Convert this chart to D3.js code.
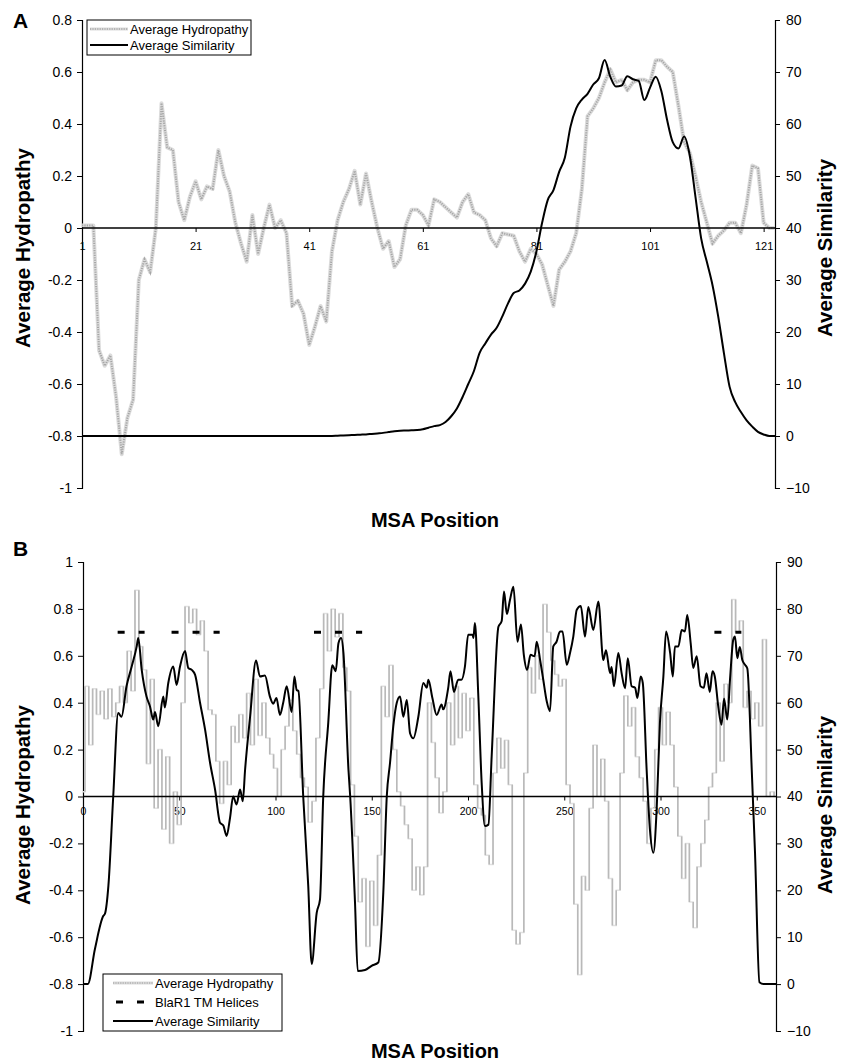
<!DOCTYPE html>
<html>
<head>
<meta charset="utf-8">
<script src="https://cdn.jsdelivr.net/npm/d3@7"></script>
<style>
  html, body { margin: 0; padding: 0; background: #fff; }
  text { font-family: "Liberation Sans", Arial, sans-serif; fill: #000; }
</style>
</head>
<body>
<svg id="chart" width="850" height="1061"></svg>
<script>
// ---------------- DATA ----------------
// Panel A: MSA positions 1..123
const hydroA = [0.01,0.01,0.01,-0.47,-0.53,-0.49,-0.65,-0.87,-0.73,-0.66,
  -0.20,-0.12,-0.17,0.00,0.48,0.31,0.30,0.10,0.03,0.12,
  0.18,0.11,0.16,0.15,0.30,0.20,0.14,0.02,-0.06,-0.13,
  0.05,-0.10,0.00,0.09,0.00,0.03,-0.02,-0.30,-0.28,-0.33,
  -0.45,-0.38,-0.30,-0.36,-0.09,0.03,0.10,0.15,0.22,0.09,
  0.21,0.10,0.00,-0.08,-0.05,-0.15,-0.12,0.01,0.07,0.07,
  0.05,0.01,0.11,0.10,0.08,0.06,0.04,0.10,0.13,0.06,
  0.05,0.03,-0.04,-0.07,-0.02,-0.025,-0.03,-0.09,-0.13,-0.08,
  -0.10,-0.14,-0.22,-0.30,-0.16,-0.13,-0.09,-0.02,0.15,0.43,
  0.46,0.50,0.56,0.61,0.56,0.57,0.53,0.56,0.57,0.57,
  0.56,0.645,0.645,0.62,0.60,0.47,0.33,0.29,0.20,0.10,
  0.02,-0.06,-0.03,-0.01,0.02,0.02,-0.02,0.09,0.24,0.23,
  0.02,0.00,0.00];
const simA = [0,0,0,0,0,0,0,0,0,0, 0,0,0,0,0,0,0,0,0,0,
  0,0,0,0,0,0,0,0,0,0, 0,0,0,0,0,0,0,0,0,0,
  0,0,0,0,0,0.05,0.1,0.15,0.2,0.25,
  0.3,0.4,0.5,0.6,0.75,0.9,1.0,1.05,1.1,1.15,
  1.3,1.6,1.9,2.1,2.7,3.8,5.3,7.5,10,12.5,
  16,17.8,19.5,20.8,23,25.5,27.5,28,29.3,31.6,
  35.5,41,45.4,47.3,50.8,53.5,59.5,63,64.7,65.8,
  67.6,68.8,72.3,69.1,67.2,67.4,69.2,68.6,68.3,64.6,
  67,69.1,66.3,60.8,56.5,55.3,57.6,53.9,46,38,
  33.5,29,23,16,9.5,6.5,4.6,3,1.8,0.8,
  0.3,0,0];
const posA = d3.range(1, hydroA.length + 1);

// Panel B: hydropathy sampled every 2 MSA positions (0..360)
const hydroB = [0.02,0.47,0.22,0.46,0.35,0.45,0.33,0.46,0.34,0.40,
  0.47,0.40,0.62,0.45,0.88,0.64,0.54,0.14,0.50,-0.05,
  0.20,-0.14,0.17,-0.20,0.02,-0.12,0.40,0.81,0.74,0.80,
  0.69,0.75,0.62,0.37,0.35,0.15,-0.03,0.15,0.05,0.30,
  0.23,0.35,0.25,0.44,0.22,0.50,0.26,0.40,0.25,0.18,
  0.12,0.00,0.20,0.30,0.41,0.28,0.18,0.08,0.04,-0.11,
  -0.02,0.25,0.46,0.78,0.62,0.80,0.68,0.78,0.55,0.45,
  0.05,-0.17,-0.45,-0.35,-0.64,-0.36,-0.55,-0.25,0.47,0.34,
  0.56,0.20,0.02,-0.04,-0.12,-0.18,-0.40,-0.30,-0.42,-0.30,
  0.40,0.23,0.08,-0.07,0.02,0.40,0.22,0.47,0.25,0.44,
  0.28,0.42,0.05,-0.05,-0.08,-0.25,-0.29,0.10,0.25,0.12,
  0.24,0.05,-0.57,-0.63,-0.58,0.10,0.55,0.44,0.60,0.50,
  0.82,0.70,0.58,0.52,0.47,0.50,0.05,-0.03,-0.46,-0.76,
  -0.34,-0.40,-0.05,0.22,0.00,0.16,-0.02,-0.35,-0.55,-0.40,
  0.10,0.43,0.30,0.38,0.17,0.08,-0.02,-0.20,-0.05,0.20,
  0.38,0.22,0.36,0.22,0.04,-0.17,-0.35,-0.20,-0.45,-0.56,
  -0.30,-0.20,-0.10,0.04,0.10,0.40,0.15,0.48,0.40,0.84,
  0.70,0.75,0.38,0.45,0.33,0.40,0.30,0.67,0.00,0.02,
  0.00];
const hydroBPos = d3.range(0, 361, 2);

const simBPos = [0,2.5,6.2,10.5,11.4,13.2,15.7,18.3,20,22.6,25.3,27.9,28.7,30.5,33,34.8,36.5,37.4,39.1,41.7,
  42.5,44.3,46.9,48.6,50.4,53,54.7,56.5,58.2,60.8,63.4,66,68.6,71.2,72.9,74.6,76.4,78,79.8,81.6,
  83,84.2,86.8,89.9,91.9,94.5,97.1,98.8,100.5,102.3,104,105.8,108.4,109.8,111,111.9,114.4,117,118.8,121.4,
  123.1,124.8,127.4,129.5,131.3,132.7,134.1,135.3,137.9,138.8,141.3,142.7,146.5,149.9,153.4,156,157.8,159.5,161.2,163,
  164.7,166.4,168.2,169.9,171.6,174.2,176.8,178.6,179.4,181.5,183.7,186.3,187.1,189.7,190.9,192.7,194.9,196.6,198.4,200.1,
  202.4,202.8,203.6,205.3,207.1,208.8,210.6,212.3,215.8,217.5,218.7,220.2,221.8,223.6,225.7,227.5,229,230.7,232.5,234.6,
  235.7,237.5,239.1,240.9,242.6,244.3,246,247.8,249.1,251.3,253,254.7,256.5,258.6,260.8,262.5,265.1,267.7,270.3,271.7,
  273.8,274.6,275.8,278.1,279.8,281.6,283,285,286.8,288,289.7,290.8,292.8,294.5,296.3,298,299.7,301.5,302.9,305,
  306.4,307.5,309.3,311,312.7,313.9,315.7,317,318.8,320.8,322.5,323.9,325.6,327,328.2,330,331.7,333,334.7,336.1,
  337.8,338.7,339.9,341.2,342.5,343.9,345.1,347.4,349.1,351.4,353.5,360];
const simB = [0,0,7.5,14.5,15,21,40,57.8,57,63.5,67.7,72,73.8,67,61.3,59.2,56.4,58,55,61.3,
  59,64.2,67.7,63.8,67.7,71,67.4,67,66,60,54.3,47.2,41.5,34.4,33.8,31.6,35.5,40,38.3,41.5,
  39,45.7,57,69,65.6,65.8,61.3,59.8,61,57.4,60,63.5,58,65.6,62.7,62.5,40,21,4.3,15.2,
  18,40,55.7,68,66.7,72.7,73.8,70.6,45.7,40,17.4,2.8,3.0,3.9,4.6,19.5,40,47.2,55,60,
  61.3,57,60.6,53.5,52.4,57,64.2,63.2,64.9,61,57.4,59.6,58.6,63.1,66.7,62.3,64.9,64.9,67.7,74.5,
  74.5,73.8,77,62,42.9,33.7,34,48.6,76.2,77.4,83.7,78.9,81.9,84.7,73,76.7,70.2,67,70.2,69.9,
  73,69,64.9,60.3,58.2,72,73,75.2,75.2,68.1,70.6,74.1,79.8,80.6,74.1,80.4,75.5,81.6,69.1,71.2,
  66.3,67.6,63.5,70.6,66.3,63.1,69.5,63.5,63.2,61,65.6,64.2,45.7,33,28,37.2,55.7,65.6,75.2,70.6,
  65.6,72,72,75.5,75.2,78.7,72.6,67.4,69.9,63.5,63.2,66.3,62.3,66.7,65.6,59.2,55.3,60.9,56.4,64.9,
  73.4,74.1,69.5,71.9,69.1,68.1,67.3,45.7,28,0.4,0,0];

// BlaR1 TM helices (start, end MSA positions), drawn at hydropathy 0.7
const helixStart = [18, 46, 120, 328];
const helixEnd   = [32, 71, 145, 342];
const helixLevel = 0.7;

// Tick values
const ticksAX = [1, 21, 41, 61, 81, 101, 121];
const ticksAL = [-1, -0.8, -0.6, -0.4, -0.2, 0, 0.2, 0.4, 0.6, 0.8];
const ticksAR = [-10, 0, 10, 20, 30, 40, 50, 60, 70, 80];
const ticksBX = [0, 50, 100, 150, 200, 250, 300, 350];
const ticksBL = [-1, -0.8, -0.6, -0.4, -0.2, 0, 0.2, 0.4, 0.6, 0.8, 1];
const ticksBR = [-10, 0, 10, 20, 30, 40, 50, 60, 70, 80, 90];

// ---------------- DRAW ----------------
const svg = d3.select("#chart");
const fmt = d => String(+d.toFixed(1));

function drawPanel(cfg) {
  const g = svg.append("g");
  const x = d3.scaleLinear().domain(cfg.xDomain).range(cfg.xRange);
  const yL = d3.scaleLinear().domain(cfg.yLDomain).range(cfg.yRange);
  const yR = d3.scaleLinear().domain(cfg.yRDomain).range(cfg.yRange);

  const gl = g.append("g").attr("transform", `translate(${cfg.xRange[0]},0)`)
    .call(d3.axisLeft(yL).tickValues(cfg.ticksL).tickSize(5).tickPadding(5).tickFormat(fmt));
  const gr = g.append("g").attr("transform", `translate(${cfg.xRange[1]},0)`)
    .call(d3.axisRight(yR).tickValues(cfg.ticksR).tickSize(5).tickPadding(6).tickFormat(d3.format("d")));
  [gl, gr].forEach(a => {
    a.select(".domain").attr("stroke", "#000").attr("stroke-width", 1.2);
    a.selectAll(".tick line").attr("stroke", "#000");
    a.selectAll("text").style("font-size", "14px").style("font-family", "Liberation Sans, Arial, sans-serif");
  });

  const gx = g.append("g").attr("transform", `translate(0,${yL(0)})`)
    .call(d3.axisBottom(x).tickValues(cfg.ticksX).tickSize(4).tickPadding(cfg.xPad).tickFormat(d3.format("d")));
  gx.select(".domain").remove();
  gx.selectAll(".tick line").attr("stroke", "#000");
  gx.selectAll("text").style("font-size", cfg.xFont).style("font-family", "Liberation Sans, Arial, sans-serif");

  return { g, x, yL, yR, cfg };
}
function zeroLine(P) {
  P.g.append("line").attr("x1", P.cfg.xRange[0]).attr("x2", P.cfg.xRange[1])
    .attr("y1", P.yL(0)).attr("y2", P.yL(0)).attr("stroke", "#000").attr("stroke-width", 1.3);
}

// ---- Panel A ----
const A = drawPanel({
  xDomain: [1, 123], xRange: [82, 775],
  yLDomain: [-1, 0.8], yRDomain: [-10, 80], yRange: [488, 20],
  ticksL: ticksAL, ticksR: ticksAR, ticksX: ticksAX, xPad: 10, xFont: "11px"
});
const lineHA = d3.line().x((d, i) => A.x(posA[i])).y(d => A.yL(d));
A.g.append("path").datum(hydroA).attr("d", lineHA).attr("fill", "none")
  .attr("stroke", "#dcdcdc").attr("stroke-width", 4).attr("stroke-linejoin", "round");
A.g.append("path").datum(hydroA).attr("d", lineHA).attr("fill", "none")
  .attr("stroke", "#a6a6a6").attr("stroke-width", 2).attr("stroke-dasharray", "1.2,1.2");
zeroLine(A);
const lineSA = d3.line().curve(d3.curveMonotoneX).x((d, i) => A.x(posA[i])).y(d => A.yR(d));
A.g.append("path").datum(simA).attr("d", lineSA).attr("fill", "none")
  .attr("stroke", "#000").attr("stroke-width", 2);

// ---- Panel B ----
const B = drawPanel({
  xDomain: [0, 360], xRange: [83, 776],
  yLDomain: [-1, 1], yRDomain: [-10, 90], yRange: [1031, 562],
  ticksL: ticksBL, ticksR: ticksBR, ticksX: ticksBX, xPad: 7, xFont: "10.5px"
});
// faint connecting steps (dotted-line look) + visible vertical strokes
const lineHB = d3.line().curve(d3.curveStep).x((d, i) => B.x(hydroBPos[i])).y(d => B.yL(d));
B.g.append("path").datum(hydroB).attr("d", lineHB).attr("fill", "none")
  .attr("stroke", "#e2e2e2").attr("stroke-width", 1.5);
const segs = d3.pairs(hydroB.map((v, i) => ({ p: hydroBPos[i], v })));
B.g.append("g").selectAll("line").data(segs).join("line")
  .attr("x1", d => B.x((d[0].p + d[1].p) / 2)).attr("x2", d => B.x((d[0].p + d[1].p) / 2))
  .attr("y1", d => B.yL(d[0].v)).attr("y2", d => B.yL(d[1].v))
  .attr("stroke", "#b9b9b9").attr("stroke-width", 1.6);
zeroLine(B);
const lineSB = d3.line().curve(d3.curveMonotoneX).x((d, i) => B.x(simBPos[i])).y(d => B.yR(d));
B.g.append("path").datum(simB).attr("d", lineSB).attr("fill", "none")
  .attr("stroke", "#000").attr("stroke-width", 2);
B.g.selectAll(".helix").data(helixStart).join("line").attr("class", "helix")
  .attr("x1", d => B.x(d)).attr("x2", (d, i) => B.x(helixEnd[i]))
  .attr("y1", B.yL(helixLevel)).attr("y2", B.yL(helixLevel))
  .attr("stroke", "#000").attr("stroke-width", 3).attr("stroke-dasharray", "7,14");

// ---- Titles ----
function boldText(x, y, txt, size, rot, anchor) {
  const t = svg.append("text").attr("font-weight", "bold").style("font-size", size + "px")
    .attr("text-anchor", anchor || "middle").text(txt);
  if (rot) t.attr("transform", `translate(${x},${y}) rotate(${rot})`);
  else t.attr("x", x).attr("y", y);
  return t;
}
boldText(13, 28, "A", 21, 0, "start");
boldText(13, 556, "B", 21, 0, "start");
boldText(30, 248, "Average Hydropathy", 20.5, -90);
boldText(832, 248, "Average Similarity", 20.5, -90);
boldText(435, 527, "MSA Position", 20);
boldText(30, 805, "Average Hydropathy", 20.5, -90);
boldText(832, 805, "Average Similarity", 20.5, -90);
boldText(435, 1058, "MSA Position", 20);

// ---- Legends ----
const legA = svg.append("g");
legA.append("rect").attr("x", 87).attr("y", 20).attr("width", 164).attr("height", 35)
  .attr("fill", "#fff").attr("stroke", "#000").attr("stroke-width", 1);
legA.append("line").attr("x1", 90).attr("x2", 128).attr("y1", 29).attr("y2", 29)
  .attr("stroke", "#dcdcdc").attr("stroke-width", 3);
legA.append("line").attr("x1", 90).attr("x2", 128).attr("y1", 29).attr("y2", 29)
  .attr("stroke", "#a6a6a6").attr("stroke-width", 1.6).attr("stroke-dasharray", "1.2,1.2");
legA.append("line").attr("x1", 90).attr("x2", 128).attr("y1", 45).attr("y2", 45)
  .attr("stroke", "#000").attr("stroke-width", 2);
legA.append("text").attr("x", 130).attr("y", 33.5).style("font-size", "13px").text("Average Hydropathy");
legA.append("text").attr("x", 130).attr("y", 49.5).style("font-size", "13px").text("Average Similarity");

const legB = svg.append("g");
legB.append("rect").attr("x", 103).attr("y", 974).attr("width", 179).attr("height", 57)
  .attr("fill", "#fff").attr("stroke", "#000").attr("stroke-width", 1);
legB.append("line").attr("x1", 113).attr("x2", 153).attr("y1", 983).attr("y2", 983)
  .attr("stroke", "#dcdcdc").attr("stroke-width", 3);
legB.append("line").attr("x1", 113).attr("x2", 153).attr("y1", 983).attr("y2", 983)
  .attr("stroke", "#b0b0b0").attr("stroke-width", 1.6).attr("stroke-dasharray", "1.2,1.2");
legB.append("line").attr("x1", 116).attr("x2", 144).attr("y1", 1002).attr("y2", 1002)
  .attr("stroke", "#000").attr("stroke-width", 3).attr("stroke-dasharray", "7,14");
legB.append("line").attr("x1", 113).attr("x2", 153).attr("y1", 1021).attr("y2", 1021)
  .attr("stroke", "#000").attr("stroke-width", 2);
legB.append("text").attr("x", 155).attr("y", 987.5).style("font-size", "13px").text("Average Hydropathy");
legB.append("text").attr("x", 155).attr("y", 1006.5).style("font-size", "13px").text("BlaR1 TM Helices");
legB.append("text").attr("x", 155).attr("y", 1025.5).style("font-size", "13px").text("Average Similarity");
</script>
</body>
</html>
